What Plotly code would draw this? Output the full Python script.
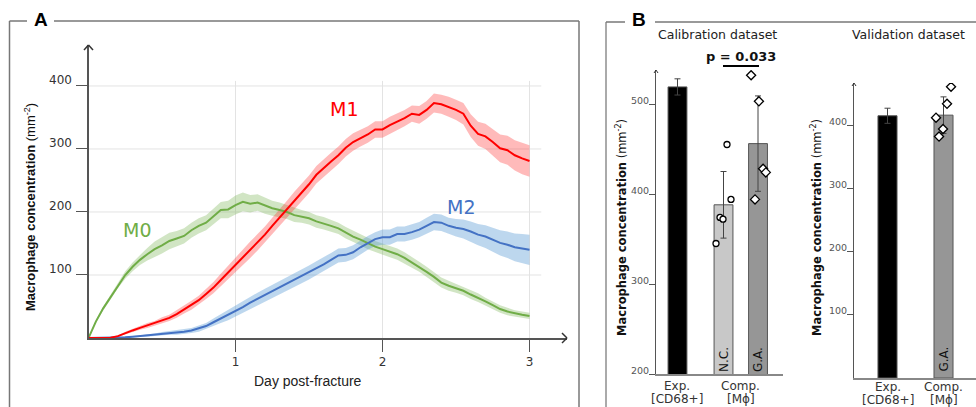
import plotly.graph_objects as go

W, H = 976, 407


def PX(x):
    return x / W


def PY(y):
    return 1 - y / H


# ---------------- Panel A data ----------------
days = [0.0, 0.05, 0.1, 0.15, 0.2, 0.25, 0.3, 0.35, 0.4, 0.45, 0.5, 0.55, 0.6, 0.65, 0.7,
        0.75, 0.8, 0.85, 0.9, 0.95, 1.0, 1.05, 1.1, 1.15, 1.2, 1.25, 1.3, 1.35, 1.4, 1.45,
        1.5, 1.55, 1.6, 1.65, 1.7, 1.75, 1.8, 1.85, 1.9, 1.95, 2.0, 2.05, 2.1, 2.15, 2.2,
        2.25, 2.3, 2.35, 2.4, 2.45, 2.5, 2.55, 2.6, 2.65, 2.7, 2.75, 2.8, 2.85, 2.9, 2.95, 3.0]
m0 = [0, 26, 47, 65, 84, 100, 113, 124, 133, 141, 147, 154, 158, 162, 171,
      178, 183, 193, 203, 204, 211, 216, 213, 215, 210, 206, 203, 200, 195, 193,
      190, 185, 182, 178, 174, 167, 161, 156, 150, 145, 141, 137, 133, 127, 120,
      113, 105, 97, 88, 83, 79, 75, 69, 64, 58, 52, 46, 42, 39, 37, 35]
m0_sd = [0, 2, 3, 4, 5, 6, 7, 8, 10, 12, 13, 13, 12, 12, 12,
         12, 12, 12, 13, 14, 15, 15, 14, 13, 13, 12, 12, 11, 11, 10,
         10, 10, 10, 9, 9, 9, 9, 9, 9, 9, 9, 9, 9, 9, 9,
         8, 8, 8, 8, 8, 7, 7, 7, 7, 6, 6, 6, 6, 5, 5, 5]
m1 = [0, 0, 0, 0.5, 3, 8, 12, 16, 20, 23, 28, 32, 38, 45, 52,
      60, 70, 80, 92, 104, 116, 128, 140, 152, 164, 178, 191, 204, 218, 231,
      244, 259, 270, 280, 290, 302, 311, 317, 323, 331, 331, 338, 343, 349, 356,
      354, 362, 373, 371, 367, 362, 356, 337, 324, 320, 311, 301, 298, 290, 285, 281]
m1_sd = [0, 0, 0, 1, 1, 2, 3, 3, 4, 4, 5, 5, 6, 6, 7,
         7, 8, 9, 10, 11, 12, 12, 13, 13, 13, 13, 13, 14, 14, 14,
         14, 14, 14, 14, 14, 14, 14, 13, 13, 13, 13, 13, 13, 13, 13,
         14, 14, 15, 15, 16, 16, 17, 18, 19, 20, 21, 22, 23, 24, 25, 25]
m2 = [0, 0, 0, 0, 0.5, 1, 2, 3, 4, 5, 6.5, 8, 9, 10, 12,
      15, 19, 25, 31, 36, 42, 49, 56, 62, 68, 74, 80, 86, 92, 98,
      104, 111, 117, 124, 131, 132, 136, 144, 151, 157, 160, 160, 165, 165, 168,
      172, 178, 184, 183, 178, 175, 173, 169, 164, 161, 156, 151, 148, 144, 142, 140]
m2_sd = [0, 0, 0, 0, 1, 1, 1, 1, 2, 2, 3, 3, 4, 4, 4,
         5, 5, 6, 7, 8, 9, 9, 10, 10, 10, 10, 11, 11, 11, 11,
         11, 11, 11, 11, 11, 11, 11, 11, 11, 11, 12, 12, 12, 12, 12,
         12, 13, 13, 13, 13, 14, 15, 16, 17, 18, 19, 20, 21, 22, 23, 24]
a_yticks = [100, 200, 300, 400]
a_xticks = [1, 2, 3]

# ---------------- Panel B data ----------------
calib_pos = [0, 1.0, 1.75]
calib_names = ["Exp.", "N.C.", "G.A."]
calib_mean = [519, 388, 456]
calib_err = [9, 37, 53]
calib_colors = ["#000000", "#c8c8c8", "#969696"]
nc_points = [455, 394, 374, 372, 345]
nc_jitter = [0.076, 0.163, -0.076, -0.011, -0.163]
ga_points = [532, 503, 428, 424, 394]
ga_jitter = [-0.15, 0.02, 0.11, 0.17, -0.065]
calib_yticks = [200, 300, 400, 500]
calib_cat_pos = [0, 1.375]
cat_line1 = ["Exp.", "Comp."]
cat_line2 = ["[CD68+]", "[M\u03d5]"]

val_pos = [0, 1]
val_mean = [416, 417]
val_err = [12, 29]
val_colors = ["#000000", "#969696"]
val_points = [413, 435, 462, 395, 383]
val_jitter = [-0.134, 0.0625, 0.134, -0.009, -0.08]
val_yticks = [100, 200, 300, 400]

p_text = "p = 0.033"

fig = go.Figure()


def band(t, m, s, fillcolor):
    upper = [a + b for a, b in zip(m, s)]
    lower = [max(a - b, 0) for a, b in zip(m, s)]
    fig.add_trace(go.Scatter(x=t + t[::-1], y=upper + lower[::-1], fill="toself",
                             fillcolor=fillcolor, line=dict(width=0), mode="lines",
                             hoverinfo="skip", showlegend=False, xaxis="x", yaxis="y"))


band(days, m0, m0_sd, "rgba(112,173,71,0.32)")
band(days, m2, m2_sd, "rgba(91,155,213,0.40)")
band(days, m1, m1_sd, "rgba(255,40,40,0.32)")

for series, col in [(m0, "#70ad47"), (m2, "#4472c4"), (m1, "#ff0000")]:
    fig.add_trace(go.Scatter(x=days, y=series, mode="lines", line=dict(color=col, width=2),
                             showlegend=False, xaxis="x", yaxis="y"))

# calibration bars
fig.add_trace(go.Bar(x=calib_pos, y=calib_mean, width=0.41,
                     marker=dict(color=calib_colors, line=dict(color="#555555", width=1)),
                     error_y=dict(type="data", array=calib_err, color="#444444", thickness=1, width=3),
                     showlegend=False, xaxis="x2", yaxis="y2"))
fig.add_trace(go.Scatter(x=[calib_pos[1] + j for j in nc_jitter], y=nc_points, mode="markers",
                         marker=dict(symbol="circle", size=6, color="white",
                                     line=dict(color="black", width=1.3)),
                         showlegend=False, xaxis="x2", yaxis="y2"))
fig.add_trace(go.Scatter(x=[calib_pos[2] + j for j in ga_jitter], y=ga_points, mode="markers",
                         marker=dict(symbol="diamond", size=7, color="white",
                                     line=dict(color="black", width=1.3)),
                         showlegend=False, xaxis="x2", yaxis="y2"))

# validation bars
fig.add_trace(go.Bar(x=val_pos, y=val_mean, width=0.34,
                     marker=dict(color=val_colors, line=dict(color="#555555", width=1)),
                     error_y=dict(type="data", array=val_err, color="#444444", thickness=1, width=3),
                     showlegend=False, xaxis="x3", yaxis="y3"))
fig.add_trace(go.Scatter(x=[val_pos[1] + j for j in val_jitter], y=val_points, mode="markers",
                         marker=dict(symbol="diamond", size=7, color="white",
                                     line=dict(color="black", width=1.3)),
                         showlegend=False, xaxis="x3", yaxis="y3"))

tickfont = dict(family="DejaVu Sans", size=12, color="#333333")

fig.update_layout(
    width=W, height=H, margin=dict(l=0, r=0, t=0, b=0),
    paper_bgcolor="white", plot_bgcolor="rgba(0,0,0,0)", showlegend=False,
    xaxis=dict(domain=[PX(88.5), PX(567)], range=[0, 3.255], anchor="y",
               tickvals=a_xticks, ticks="outside", ticklen=12, tickcolor="#555555",
               showline=True, linecolor="#555555", linewidth=1.5, showgrid=False,
               zeroline=False, tickfont=tickfont),
    yaxis=dict(domain=[PY(338), PY(45)], range=[0, 465], anchor="x",
               tickvals=a_yticks, ticks="outside", ticklen=11, tickcolor="#555555",
               showticklabels=False,
               showline=True, linecolor="#555555", linewidth=1.5, showgrid=False,
               zeroline=False),
    xaxis2=dict(domain=[PX(656), PX(783)], range=[-0.467, 2.293], anchor="y2",
                showticklabels=False, ticks="",
                showline=True, linecolor="#888888", linewidth=1.5, showgrid=False,
                zeroline=False),
    yaxis2=dict(domain=[PY(374), PY(70)], range=[200, 537.8], anchor="x2",
                tickvals=calib_yticks, ticks="outside", ticklen=6, tickcolor="#555555",
                showticklabels=False,
                showline=True, linecolor="#555555", linewidth=1, showgrid=False,
                zeroline=False),
    xaxis3=dict(domain=[PX(854), 1.0], range=[-0.598, 1.58], anchor="y3",
                showticklabels=False, ticks="",
                showline=True, linecolor="#888888", linewidth=1.5, showgrid=False,
                zeroline=False),
    yaxis3=dict(domain=[PY(378), PY(83)], range=[0, 468], anchor="x3",
                tickvals=val_yticks, ticks="outside", ticklen=6, tickcolor="#555555",
                showticklabels=False,
                showline=True, linecolor="#555555", linewidth=1, showgrid=False,
                zeroline=False),
)

shapes = []
# gridlines panel A
for v in a_yticks:
    shapes.append(dict(type="line", xref="x", yref="y", x0=0, x1=3.08, y0=v, y1=v,
                       line=dict(color="#e3e3e3", width=1), layer="below"))
for v in a_xticks:
    shapes.append(dict(type="line", xref="x", yref="y", x0=v, x1=v, y0=0, y1=408,
                       line=dict(color="#e3e3e3", width=1), layer="below"))


def pline(x0, y0, x1, y1, color, width):
    shapes.append(dict(type="line", xref="paper", yref="paper", x0=PX(x0), y0=PY(y0),
                       x1=PX(x1), y1=PY(y1), line=dict(color=color, width=width)))


# frames
pline(9.5, 21, 9.5, 407, "#777777", 1.5)
pline(9.5, 21, 27, 21, "#777777", 1.5)
pline(54, 21, 579, 21, "#777777", 1.5)
pline(579, 21, 579, 407, "#777777", 1.5)
pline(606, 22, 606, 407, "#aaaaaa", 2)
pline(606, 22, 625, 22, "#777777", 1.5)
pline(655, 22, 976, 22, "#777777", 1.5)

# arrow heads
for (x0, y0, x1, y1, x2, y2, w) in [
    (84, 50, 88.5, 45, 93, 50, 1.5),
    (562, 333, 567, 338, 562, 343, 1.5),
    (654, 73, 656, 70, 658, 73, 1),
    (852, 86, 854, 83, 856, 86, 1),
]:
    pline(x0, y0, x1, y1, "#333333", w)
    pline(x1, y1, x2, y2, "#333333", w)

# p-value line
pline(723, 66, 759, 66, "#000000", 2)

fig.update_layout(shapes=shapes)

ann = []


def text(x, y, s, size, color="#222222", family="DejaVu Sans", angle=0, xref="paper"):
    ann.append(dict(x=PX(x) if xref == "paper" else x, y=PY(y), xref=xref, yref="paper",
                    text=s, showarrow=False, textangle=angle, xanchor="center",
                    yanchor="middle", font=dict(family=family, size=size, color=color)))


def ylabel(xpx, v, yref, size, color, shift):
    ann.append(dict(x=PX(xpx), y=v, xref="paper", yref=yref, text=str(v), showarrow=False,
                    xanchor="right", yanchor="middle", yshift=shift,
                    font=dict(family="DejaVu Sans", size=size, color=color)))


for v in a_yticks:
    ylabel(74, v, "y", 12, "#333333", 6)
for v in calib_yticks:
    ylabel(651, v, "y2", 9.5, "#555555", 4)
for v in val_yticks:
    ylabel(849, v, "y3", 9.5, "#555555", 4)

text(41, 19, "<b>A</b>", 19, "#000000", "Liberation Sans")
text(639, 20, "<b>B</b>", 19, "#000000", "Liberation Sans")
text(30, 207, "<b>Macrophage concentration</b> (mm<sup>-2</sup>)", 13, "#111111", "Liberation Sans", -90)
text(308, 381, "Day post-fracture", 14, "#222222", "Liberation Sans")
text(137, 230, "M0", 19, "#70ad47")
text(344, 109, "M1", 19, "#ff0000")
text(461, 207, "M2", 19, "#4472c4")
text(717, 34, "Calibration dataset", 12.5, "#222222")
text(908, 34, "Validation dataset", 12.5, "#222222")
text(741, 56, "<b>" + p_text + "</b>", 13, "#111111")
text(621, 228, "<b>Macrophage concentration</b> (mm<sup>-2</sup>)", 11.5, "#111111", "DejaVu Sans", -90)
text(816, 228, "<b>Macrophage concentration</b> (mm<sup>-2</sup>)", 11.5, "#111111", "DejaVu Sans", -90)
text(724, 360, calib_names[1], 12, "#111111", "DejaVu Sans", -90)
text(758, 360, calib_names[2], 12, "#111111", "DejaVu Sans", -90)
text(943.5, 359, calib_names[2], 12, "#111111", "DejaVu Sans", -90)

for pos, l1, l2 in zip(calib_cat_pos, cat_line1, cat_line2):
    text(pos, 386, l1, 12, "#333333", "DejaVu Sans", 0, "x2")
    text(pos, 399, l2, 12, "#333333", "DejaVu Sans", 0, "x2")
for pos, l1, l2 in zip(val_pos, cat_line1, cat_line2):
    text(pos, 387, l1, 12, "#333333", "DejaVu Sans", 0, "x3")
    text(pos, 400, l2, 12, "#333333", "DejaVu Sans", 0, "x3")

fig.update_layout(annotations=ann)

fig.write_html("out.html", config={"displayModeBar": False},
               post_script="document.body.style.margin='0px';document.body.style.overflow='hidden';")
